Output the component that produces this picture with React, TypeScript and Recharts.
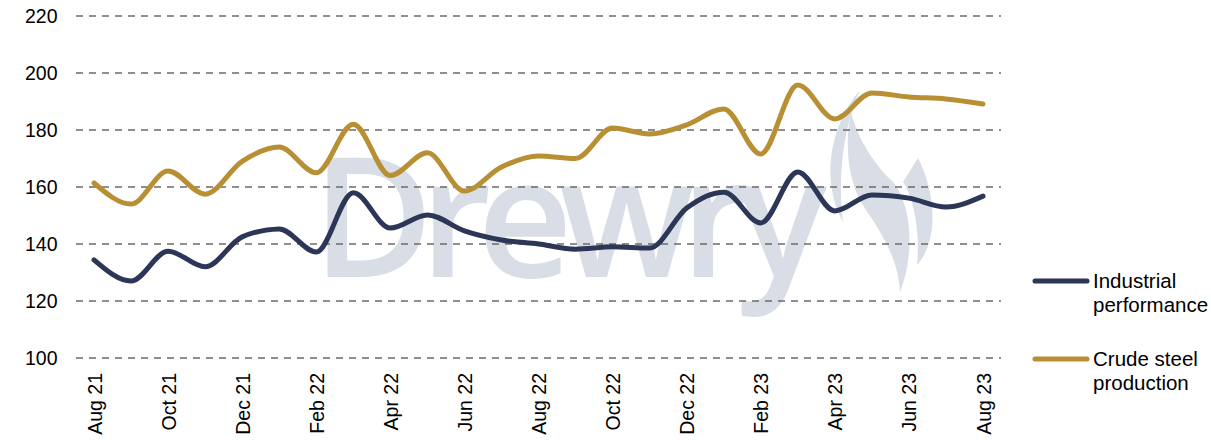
import React from 'react';
import { LineChart, Line, XAxis, YAxis, CartesianGrid } from 'recharts';

const months = [
  'Aug 21', 'Sep 21', 'Oct 21', 'Nov 21', 'Dec 21', 'Jan 22', 'Feb 22', 'Mar 22', 'Apr 22',
  'May 22', 'Jun 22', 'Jul 22', 'Aug 22', 'Sep 22', 'Oct 22', 'Nov 22', 'Dec 22', 'Jan 23',
  'Feb 23', 'Mar 23', 'Apr 23', 'May 23', 'Jun 23', 'Jul 23', 'Aug 23',
];

const industrial = [
  134.4, 127, 137.5, 132, 142.5, 145.3, 137.2, 158, 145.6, 150.2, 144.6, 141.4, 140,
  138.2, 139, 138.6, 152.6, 158.2, 147.4, 165.3, 151.6, 157.2, 156.1, 153, 156.8,
];

const crudeSteel = [
  161.4, 154, 165.6, 157.5, 169, 174, 165, 182, 164, 172, 158.6, 167, 170.9,
  170, 180.7, 178.6, 181.8, 187.4, 171.6, 195.8, 183.9, 193, 191.6, 190.9, 189.1,
];

const yTicks = [100, 120, 140, 160, 180, 200, 220];

const seriesNames = [
  ['Industrial', 'performance'],
  ['Crude steel', 'production'],
];

const data = months.map((m, i) => ({ month: m, industrial: industrial[i], crude: crudeSteel[i] }));

const NAVY = '#2c3656';
const GOLD = '#b98f33';
const WM = '#d9dee6';
const FONT = 'Liberation Sans, Arial, sans-serif';

const XTick = ({ x, payload }: any) => (
  <text
    x={0}
    y={0}
    transform={`translate(${x + 7.5},373) rotate(-90)`}
    textAnchor="end"
    fontSize={19.5}
    fontFamily={FONT}
    fill="#000"
  >
    {payload.value}
  </text>
);

const YTick = ({ y, payload }: any) => (
  <text x={57.5} y={y + 7} textAnchor="end" fontSize={19.5} fontFamily={FONT} fill="#000">
    {payload.value}
  </text>
);

// watermark behind the plot
const Watermark = () => (
  <svg width={1211} height={440} style={{ position: 'absolute', left: 0, top: 0 }}>
    <text
      x={312}
      y={277}
      fontSize={166}
      fontFamily="Open Sans, sans-serif"
      fontWeight={600}
      fill={WM}
      letterSpacing={-14}
    >
      Drewry
    </text>
    <path d="M860 90 C 830 125, 820 180, 843 222 C 838 180, 842 130, 860 90 Z" fill={WM} />
    <path
      d="M851 112 C 858 140, 875 165, 893 182 C 912 205, 915 255, 900 292 C 898 265, 890 245, 866 210 C 848 185, 844 145, 851 112 Z"
      fill={WM}
    />
    <path d="M918 158 C 935 190, 940 240, 917 265 C 920 235, 915 200, 903 182 C 908 175, 913 165, 918 158 Z" fill={WM} />
  </svg>
);

const LegendOverlay = () => (
  <svg width={1211} height={440} style={{ position: 'absolute', left: 0, top: 0, pointerEvents: 'none' }}>
    {[NAVY, GOLD].map((c, i) => {
      const y0 = i === 0 ? 281 : 359;
      return (
        <g key={i}>
          <line x1={1035} x2={1087} y1={y0} y2={y0} stroke={c} strokeWidth={5} strokeLinecap="round" />
          <text x={1093} y={y0 + 7} fontSize={20.5} fontFamily={FONT} fill="#000">
            {seriesNames[i][0]}
          </text>
          <text x={1093} y={y0 + 31} fontSize={20.5} fontFamily={FONT} fill="#000">
            {seriesNames[i][1]}
          </text>
        </g>
      );
    })}
  </svg>
);

export default function App() {
  return (
    <div style={{ position: 'absolute', left: 0, top: 0, width: 1211, height: 440, background: '#fff' }}>
      <Watermark />
      <div style={{ position: 'absolute', left: 0, top: 0 }}>
        <LineChart width={1211} height={440} data={data} margin={{ top: 16, right: 210, left: 0, bottom: 0 }}>
          <CartesianGrid vertical={false} stroke="#6b6b6b" strokeWidth={1.5} strokeDasharray="7 6" />
          <XAxis
            dataKey="month"
            interval={1}
            axisLine={false}
            tickLine={false}
            height={82}
            padding={{ left: 18, right: 18 }}
            tick={<XTick />}
          />
          <YAxis
            domain={[100, 220]}
            ticks={yTicks}
            axisLine={false}
            tickLine={false}
            width={76}
            tick={<YTick />}
          />
          <Line
            type="monotone"
            dataKey="industrial"
            name="Industrial performance"
            stroke={NAVY}
            strokeWidth={5}
            strokeLinecap="round"
            dot={false}
            isAnimationActive={false}
          />
          <Line
            type="monotone"
            dataKey="crude"
            name="Crude steel production"
            stroke={GOLD}
            strokeWidth={5}
            strokeLinecap="round"
            dot={false}
            isAnimationActive={false}
          />
        </LineChart>
      </div>
      <LegendOverlay />
    </div>
  );
}
